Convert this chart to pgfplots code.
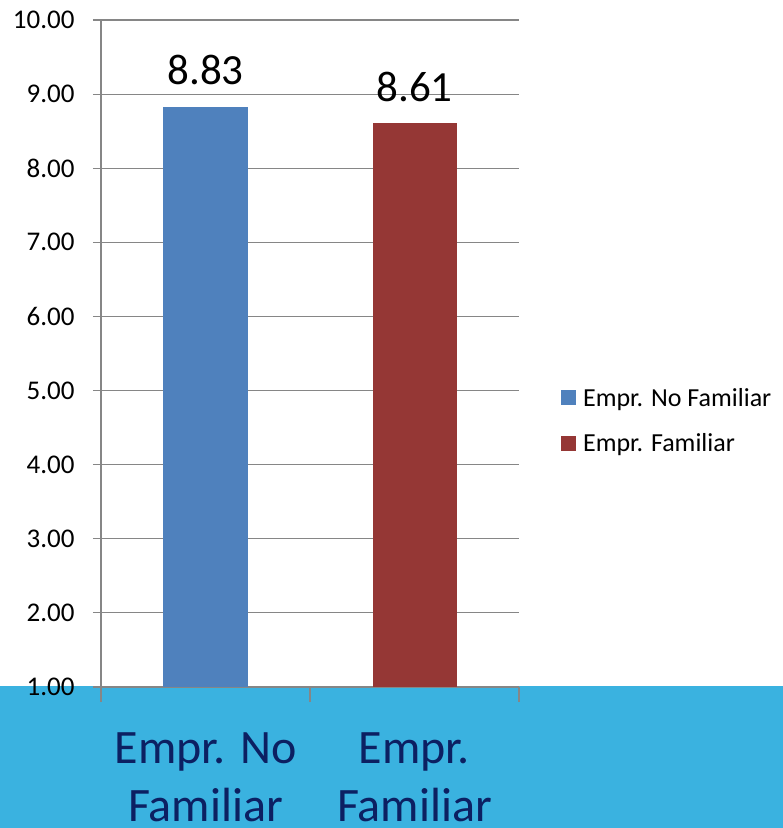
\documentclass[border=0pt]{standalone}
\usepackage{pgfplots}
\pgfplotsset{compat=1.18}
\usepackage{fontspec}
\setmainfont{Carlito}
\definecolor{band}{RGB}{58,178,224}
\definecolor{barblue}{RGB}{79,129,189}
\definecolor{barred}{RGB}{149,55,53}
\definecolor{gridgray}{RGB}{134,134,134}
\definecolor{navy}{RGB}{12,32,98}

\begin{document}
\begin{tikzpicture}
\path[use as bounding box] (0pt,0pt) rectangle (783pt,828pt);
\fill[band] (0pt,0pt) rectangle (783pt,142pt);
\begin{axis}[
    at={(101pt,141pt)}, anchor=south west,
    scale only axis, width=418pt, height=667pt,
    xmin=0.5, xmax=2.5, ymin=1, ymax=10,
    axis lines*=left,
    axis line style={draw=gridgray, line width=1.2pt, -},
    ytick={1,2,...,10},
    yticklabel style={font=\fontsize{27}{32}\selectfont, xshift=-15pt},
    /pgf/number format/assume math mode=true,
    y tick label style={/pgf/number format/.cd, fixed, zerofill, precision=2},
    ymajorgrids,
    grid style={draw=gridgray, line width=1.2pt},
    tick style={draw=gridgray, line width=1.2pt},
    tick align=outside,
    major tick length=8pt,
    xtick={1,2},
    xticklabels={Empr. No\\Familiar, Empr.\\Familiar},
    x tick style={draw=none},
    x tick label style={font=\fontsize{48}{58}\selectfont, text=navy,
        align=center, yshift=-34pt},
    extra x ticks={0.5,1.5,2.5},
    extra x tick labels={},
    extra x tick style={major tick length=15pt, grid=none,
        x tick style={draw=gridgray}},
    ybar, bar width=84pt,
    nodes near coords={\pgfmathprintnumber[fixed,zerofill,precision=2]{\pgfplotspointmeta}},
    nodes near coords style={font=\fontsize{43}{50}\selectfont, text=black, yshift=18pt},
    legend style={at={(1.093,0.399)}, anchor=west, draw=none, fill=none,
        font=\fontsize{26}{31}\selectfont, row sep=22pt,
        nodes={inner xsep=7pt}},
    legend cell align=left,
    legend image code/.code={\fill[#1] (0pt,-7pt) rectangle (15pt,8pt);},
]
\addplot[fill=barblue, draw=none, bar shift=0pt] coordinates {(1,8.83)};
\addlegendentry{Empr. No Familiar}
\addplot[fill=barred, draw=none, bar shift=0pt] coordinates {(2,8.61)};
\addlegendentry{Empr. Familiar}
\end{axis}
\end{tikzpicture}
\end{document}
